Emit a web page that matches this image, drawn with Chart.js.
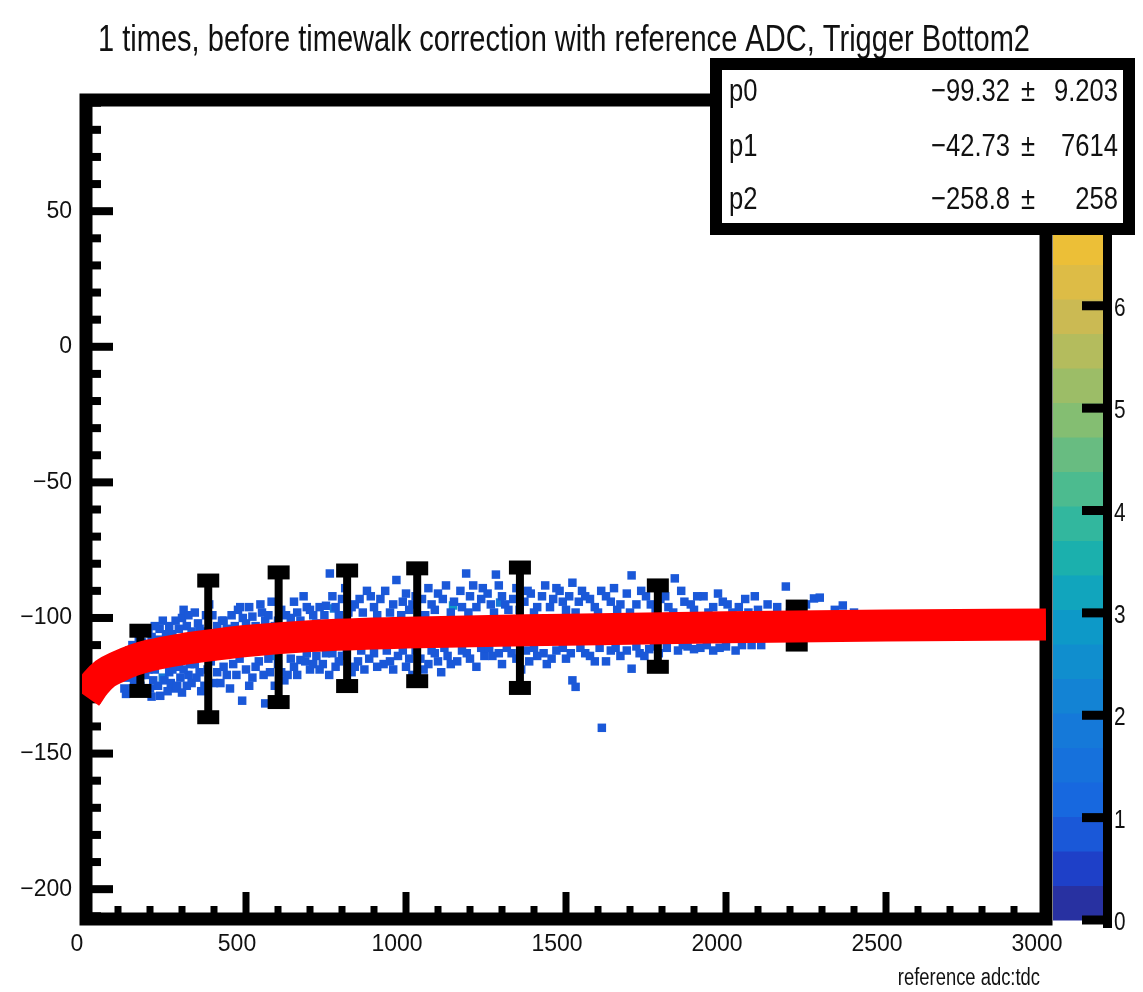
<!DOCTYPE html>
<html>
<head>
<meta charset="utf-8">
<script src="https://cdn.jsdelivr.net/npm/chart.js@4"></script>
<style>
  body { margin: 0; background: #fff; }
  canvas { display: block; }
</style>
</head>
<body>
<canvas id="chart" width="1143" height="992"></canvas>
<script>
const titleText = '1 times, before timewalk correction with reference ADC, Trigger Bottom2';
const xTitle = 'reference adc:tdc';
const xTicks = [0, 500, 1000, 1500, 2000, 2500, 3000];
const yTicks = [-200, -150, -100, -50, 0, 50];
const zTicks = [0, 1, 2, 3, 4, 5, 6];
const zMax = 6.74;

// red fit band
const fitX = [0, 30, 60, 100, 150, 200, 300, 400, 500, 700, 1000, 1500, 2000, 2500, 3000];
const fitY = [-129, -124, -120.5, -118, -115.5, -113.8, -111.5, -109.9, -108.5, -106.7, -105.4, -104.3, -103.4, -102.8, -102.4];

// profile points with error bars
const profX = [170, 382, 602, 816, 1035, 1356, 1787, 2221];
const profY = [-115.8, -111.4, -107.1, -103.8, -102.5, -103.6, -103.0, -102.8];
const profErr = [11.1, 25.2, 23.9, 21.3, 20.8, 22.2, 15.0, 7.0];

// stat box
const parNames = ['p0', 'p1', 'p2'];
const parValues = ['\u221299.32', '\u221242.73', '\u2212258.8'];
const parErrors = ['9.203', '7614', '258'];

// filled bins: [x, y, entries]
const hits = [
  [120,-126,1],[125,-128,1],[140,-120,1],[150,-123,1],[160,-118,1],[170,-125,1],[175,-109,1],[180,-117,1],
  [185,-121,1],[190,-115,1],[200,-126,1],[205,-107,1],[210,-123,1],[215,-119,1],[220,-114,1],[230,-104,1],
  [232,-128.7,1],[240,-122,2],[245,-123,1],[250,-106,1],[250,-113,1],[260,-120,1],[265,-124,1],[275,-126,1],
  [280,-101,1],[280,-110,1],[290,-118,1],[295,-122,1],[300,-100,1],[300,-127.5,1],[310,-111,1],[315,-103,1],
  [320,-121,1],[325,-117,1],[330,-105,1],[330,-124,1],
  [135,-112,1],[145,-110,1],[165,-108,1],[195,-105,1],[215,-103,1],[225,-108,1],[240,-101,1],[260,-103,1],
  [270,-106,1],[290,-104,1],[305,-97,1],[320,-99,1],
  [130,-122,1],[145,-126,1],[155,-120,1],[165,-127,1],[175,-121,1],[195,-119,1],[205,-129,1],[225,-125,1],
  [235,-117,1],[255,-127,1],[270,-119,1],[285,-125,1],[305,-119,1],[315,-125,1],
  [345,-122,1],[350,-102,1],[360,-110,1],[360,-127,1],[370,-105,1],[380,-119,1],[395,-99,1],[400,-124,1],
  [400,-108,1],[415,-113,2],[420,-124,1],[425,-101,1],[430,-101,1],[440,-104,1],[440,-121,1],[450,-107,1],
  [460,-117,1],[475,-97,1],[482,-96,1],[488,-130.5,1],[500,-102,1],[500,-119,1],[500,-110,1],[520,-99.5,1],
  [520,-122,1],[530,-112,3],[540,-116,1],[550,-98,1],[550,-106,1],[560,-101,1],[560,-131.5,1],[575,-120,1],
  [580,-114,2],[590,-103,1],[600,-117,1],[600,-108,1],[610,-97,1],[620,-123,1],[630,-121,1],[640,-100,1],
  [650,-118,1],[650,-105,1],[660,-98,1],[670,-115.5,1],[685,-116,1],[690,-96,1],[700,-119,1],[700,-110,1],
  [710,-99,1],[720,-114,1],[730,-96,1],[740,-117,1],[740,-106,1],[750,-95.5,1],[760,-121,1],[762,-83.6,1],
  [340,-98,1],[355,-104,1],[375,-99,1],[385,-95,1],[410,-103,1],[455,-99,1],[465,-103,1],[490,-100,1],
  [510,-96,1],[530,-103,1],[545,-95,1],[570,-99,1],[580,-94,1],[600,-101,1],[625,-99,1],[650,-94,1],
  [670,-101,1],[680,-92,1],[700,-97,1],[720,-102,1],[745,-99,1],
  [340,-117,1],[355,-120,1],[370,-125,1],[390,-116,1],[410,-120,1],[430,-118,1],[450,-126,1],[470,-121,1],
  [480,-115,1],[510,-125,1],[530,-118,1],[555,-121,1],[570,-115,1],[590,-125,1],[610,-120,1],[640,-115,1],
  [660,-121,1],[690,-113,1],[710,-117,1],[730,-119,1],[750,-113,1],
  [775,-96.5,2],[780,-96,1],[780,-118,1],[800,-93,1],[800,-114,1],[800,-105,1],[820,-98,1],[830,-120,1],
  [840,-95,1],[850,-116,1],[860,-103,1],[870,-119,1],[878,-90,1],[900,-96,1],[900,-113,1],[920,-93,1],
  [920,-107,1],[930,-117,1],[950,-98,1],[950,-116,1],[970,-86,1],[975,-114,1],[980,-102,1],[990,-94,1],
  [1000,-118,1],[1010,-97,1],[1020,-121,1],[1030,-92,1],[1040,-106,1],[1045,-115,1],[1060,-99,1],[1070,-117,1],
  [1080,-95,1],[1090,-113,1],[1100,-91,1],[1100,-104,1],[1110,-120,1],[1125,-88,1],[1130,-114,1],[1147,-95.4,3],
  [1150,-94,1],[1160,-116,1],[1160,-103,1],[1170,-90,1],[1188,-83.6,1],[1190,-113,1],[1200,-92,1],[1220,-96,1],
  [1220,-118,1],[1220,-105,1],[1240,-89,1],[1245,-114,1],
  [770,-92,1],[790,-99,1],[810,-89,1],[830,-96,1],[855,-93,1],[865,-98,1],[890,-92,1],[910,-99,1],
  [935,-90,1],[960,-95,1],[985,-99,1],[1000,-91,1],[1020,-95,1],[1050,-93,1],[1070,-89,1],[1090,-97,1],
  [1115,-93,1],[1140,-98,1],[1175,-96,1],[1195,-98,1],[1210,-88,1],[1235,-93,1],
  [770,-113,1],[790,-116,1],[815,-112,1],[840,-118,1],[860,-112,1],[885,-115,1],[910,-118,1],[940,-112,1],
  [960,-119,1],[990,-112,1],[1010,-115,1],[1030,-112,1],[1055,-119,1],[1080,-112,1],[1100,-116,1],[1120,-111,1],
  [1140,-117,1],[1175,-112,1],[1200,-115,1],[1235,-111,1],
  [1265,-95,1],[1270,-114,1],[1280,-104,1],[1281,-84,1],[1294,-94.3,2],[1300,-92,1],[1300,-117,1],[1320,-97,1],
  [1330,-113,1],[1345,-89,1],[1350,-101,1],[1360,-119,1],[1370,-94,1],[1385,-116,1],[1390,-91,1],[1410,-96,1],
  [1410,-114,1],[1420,-106,1],[1435,-88,1],[1440,-117,1],[1460,-93,1],[1470,-112,1],[1480,-90,1],[1480,-102,1],
  [1500,-97,1],[1500,-115,1],[1520,-87,1],[1520,-123,1],[1530,-125.4,1],[1540,-94,1],[1550,-105,1],[1560,-92,1],
  [1560,-113,1],[1590,-96,1],[1590,-116,1],[1610,-90,1],[1612,-140.5,1],[1620,-101,1],[1640,-94,1],[1640,-112,1],
  [1660,-97,1],[1670,-114,1],[1680,-106,1],[1690,-91,1],[1705,-84.3,1],[1705,-118.7,1],[1720,-95,1],[1730,-113,1],
  [1750,-92,1],[1750,-103,1],[1760,-111.5,1],[1780,-97,1],[1790,-113,1],
  [1255,-91,1],[1275,-98,1],[1290,-88,1],[1310,-95,1],[1335,-93,1],[1355,-97,1],[1380,-90,1],[1400,-98,1],
  [1425,-92,1],[1450,-96,1],[1470,-89,1],[1490,-94,1],[1510,-92,1],[1530,-98,1],[1550,-90,1],[1575,-93,1],
  [1600,-98,1],[1625,-92,1],[1650,-89,1],[1670,-95,1],[1700,-98,1],[1735,-90,1],[1765,-95,1],[1795,-93,1],
  [1260,-111,1],[1290,-113,1],[1315,-111,1],[1345,-115,1],[1375,-112,1],[1400,-111,1],[1430,-113,1],[1455,-115,1],
  [1490,-111,1],[1515,-113,1],[1545,-111,1],[1575,-114,1],[1605,-111,1],[1625,-116,1],[1655,-111,1],[1690,-112,1],
  [1720,-110.5,1],[1745,-114,1],[1775,-110.5,1],
  [1820,-96,1],[1840,-85.4,1],[1850,-112,1],[1850,-103,1],[1870,-94,1],[1880,-110.5,1],[1900,-97,1],[1920,-111,1],
  [1920,-101,1],[1930,-92,1],[1960,-96,1],[1960,-112,1],[1990,-94,1],[2000,-110.5,1],[2000,-105,1],[2020,-98,1],
  [2030,-112,1],[2060,-93,1],[2080,-110,1],[2080,-102,1],[2100,-97,1],[2130,-95,1],[2150,-104,1],[2187,-88.4,1],
  [2230,-97,1],[2250,-103,1],[2275,-92.8,1],[2293,-92.5,1],[2320,-101,1],[2340,-97,1],[2365,-95.4,1],[2400,-98,1],
  [1810,-92,1],[1835,-98,1],[1860,-90,1],[1890,-95,1],[1910,-92,1],[1945,-98,1],[1975,-91,1],[2005,-95,1],
  [2040,-96,1],[2070,-98,1],[2090,-92,1],[2120,-99,1],[2160,-96,1],[2200,-98,1],[2250,-95,1],[2310,-99,1],
  [1815,-111,1],[1865,-110,1],[1900,-111.5,1],[1940,-110,1],[1980,-111,1],[2050,-110,1],[2110,-110,1]
];

const FONT = "'Liberation Sans', Arial, sans-serif";

const palette = [
  [0, [45, 42, 140]], [0.07, [30, 62, 198]], [0.15, [24, 100, 224]], [0.3, [20, 125, 215]],
  [0.445, [12, 158, 198]], [0.52, [25, 175, 175]], [0.6, [62, 186, 150]], [0.74, [140, 190, 110]],
  [0.89, [210, 186, 80]], [1, [244, 192, 48]]
];
const nLevels = 20;

function paletteAt(f) {
  f = Math.max(0, Math.min(1, f));
  for (let i = 1; i < palette.length; i++) {
    if (f <= palette[i][0]) {
      const a = palette[i - 1], b = palette[i];
      const t = (f - a[0]) / (b[0] - a[0]);
      const c = a[1].map((v, k) => Math.round(v + (b[1][k] - v) * t));
      return 'rgb(' + c.join(',') + ')';
    }
  }
  return 'rgb(' + palette[palette.length - 1][1].join(',') + ')';
}
function levelColor(z) {
  const lvl = Math.min(nLevels - 1, Math.floor(z / zMax * nLevels));
  return paletteAt((lvl + 0.5) / nLevels);
}

function stretchText(ctx, txt, x, y, size, align, sx) {
  ctx.save();
  ctx.font = size + 'px ' + FONT;
  ctx.textAlign = align;
  ctx.textBaseline = 'alphabetic';
  ctx.translate(x, y);
  ctx.scale(sx, 1);
  ctx.fillText(txt, 0, 0);
  ctx.restore();
}

// thick ROOT style frame with inside ticks, drawn under the data
const framePlugin = {
  id: 'rootFrame',
  beforeDatasetsDraw(chart) {
    const { ctx, chartArea: a, scales: { x, y } } = chart;
    ctx.save();
    ctx.fillStyle = '#000';
    for (let v = -210; v <= 90; v += 10) {
      const py = y.getPixelForValue(v);
      const major = v % 50 === 0;
      ctx.fillRect(a.left, py - 4, major ? 27 : 15, 8);
    }
    for (let v = 100; v < 3000; v += 100) {
      const px = x.getPixelForValue(v);
      const len = v % 500 === 0 ? 27 : 13;
      ctx.fillRect(px - 3.5, a.bottom - len, 7, len);
    }
    ctx.lineWidth = 13;
    ctx.strokeStyle = '#000';
    ctx.strokeRect(a.left, a.top, a.right - a.left, a.bottom - a.top);
    ctx.restore();
  }
};

// error bars go between the filled bins and the fit band
const errorBarPlugin = {
  id: 'errorBars',
  beforeDatasetDraw(chart, args) {
    if (args.index !== 0) return;
    const { ctx, scales: { x, y } } = chart;
    ctx.save();
    ctx.fillStyle = '#000';
    profX.forEach((xv, i) => {
      const px = x.getPixelForValue(xv);
      const top = y.getPixelForValue(profY[i] + profErr[i]);
      const bot = y.getPixelForValue(profY[i] - profErr[i]);
      ctx.fillRect(px - 4, top, 8, bot - top);
      ctx.fillRect(px - 11, top - 7, 22, 14);
      ctx.fillRect(px - 11, bot - 7, 22, 14);
    });
    ctx.restore();
  }
};

const decorPlugin = {
  id: 'decor',
  afterDraw(chart) {
    const { ctx } = chart;
    ctx.save();
    ctx.fillStyle = '#111';

    // title, squeezed to the width it has in the picture
    ctx.font = '36px ' + FONT;
    const tw = ctx.measureText(titleText).width;
    stretchText(ctx, titleText, 564, 51, 36, 'center', 932 / tw);

    // axis title
    stretchText(ctx, xTitle, 1040, 985, 23, 'right', 0.8);

    // palette
    const cb = { left: 1053, right: 1103, top: 230, bottom: 920 };
    const zPix = z => cb.bottom - z / zMax * (cb.bottom - cb.top);
    for (let i = 0; i < nLevels; i++) {
      const z0 = i * zMax / nLevels, z1 = (i + 1) * zMax / nLevels;
      ctx.fillStyle = paletteAt((i + 0.5) / nLevels);
      ctx.fillRect(cb.left, zPix(z1), cb.right - cb.left, zPix(z0) - zPix(z1) + 0.5);
    }
    ctx.fillStyle = '#000';
    ctx.fillRect(cb.right, cb.top - 8, 9, cb.bottom - cb.top + 16);
    zTicks.forEach(z => {
      const py = zPix(z);
      ctx.fillStyle = '#000';
      ctx.fillRect(cb.right - 21, py - 4.5, 21, 9);
      ctx.fillStyle = '#111';
      stretchText(ctx, String(z), 1114, py + 10, 26, 'left', 0.8);
    });

    // fit parameter box
    const box = { left: 716, right: 1129, top: 64, bottom: 229 };
    ctx.fillStyle = '#fff';
    ctx.fillRect(box.left, box.top, box.right - box.left, box.bottom - box.top);
    ctx.lineWidth = 12;
    ctx.strokeStyle = '#000';
    ctx.strokeRect(box.left, box.top, box.right - box.left, box.bottom - box.top);
    ctx.fillStyle = '#111';
    const rowY = [101, 156, 209];
    parNames.forEach((name, i) => {
      stretchText(ctx, name, 729, rowY[i], 32, 'left', 0.8);
      stretchText(ctx, parValues[i], 1010, rowY[i], 32, 'right', 0.8);
      stretchText(ctx, '\u00b1', 1028, rowY[i], 32, 'center', 0.8);
      stretchText(ctx, parErrors[i], 1118, rowY[i], 32, 'right', 0.8);
    });
    ctx.restore();
  }
};

const tickFont = { family: FONT, size: 23 };
const minus = v => String(v).replace('-', '\u2212');

new Chart(document.getElementById('chart'), {
  type: 'scatter',
  data: {
    datasets: [
      {
        type: 'line',
        label: 'fit',
        data: fitX.map((x, i) => ({ x: x, y: fitY[i] })),
        borderColor: '#ff0000',
        borderWidth: 32,
        pointRadius: 0,
        fill: false,
        cubicInterpolationMode: 'monotone',
        clip: { left: 4, top: 0, right: 0, bottom: 0 },
        order: 0
      },
      {
        label: 'hits',
        data: hits.map(h => ({ x: h[0], y: h[1], n: h[2] })),
        pointStyle: 'rect',
        pointRadius: 6,
        borderWidth: 0,
        backgroundColor: c => levelColor(c.raw ? c.raw.n : 1),
        order: 1
      }
    ]
  },
  options: {
    responsive: false,
    animation: false,
    events: [],
    layout: { padding: { top: 100, right: 97, left: 0, bottom: 0 } },
    plugins: { legend: { display: false }, tooltip: { enabled: false }, title: { display: false } },
    scales: {
      x: {
        type: 'linear',
        min: 0,
        max: 3000,
        afterBuildTicks: s => { s.ticks = xTicks.map(v => ({ value: v })); },
        afterFit: s => { s.height = 73; },
        grid: { display: false, drawTicks: false },
        border: { display: false },
        ticks: { font: tickFont, color: '#111', padding: 12, labelOffset: -9, maxRotation: 0, callback: minus }
      },
      y: {
        type: 'linear',
        min: -211,
        max: 91,
        afterBuildTicks: s => { s.ticks = yTicks.map(v => ({ value: v })); },
        afterFit: s => { s.width = 86; },
        grid: { display: false, drawTicks: false },
        border: { display: false },
        ticks: { font: tickFont, color: '#111', padding: 14, callback: minus }
      }
    }
  },
  plugins: [framePlugin, errorBarPlugin, decorPlugin]
});
</script>
</body>
</html>
